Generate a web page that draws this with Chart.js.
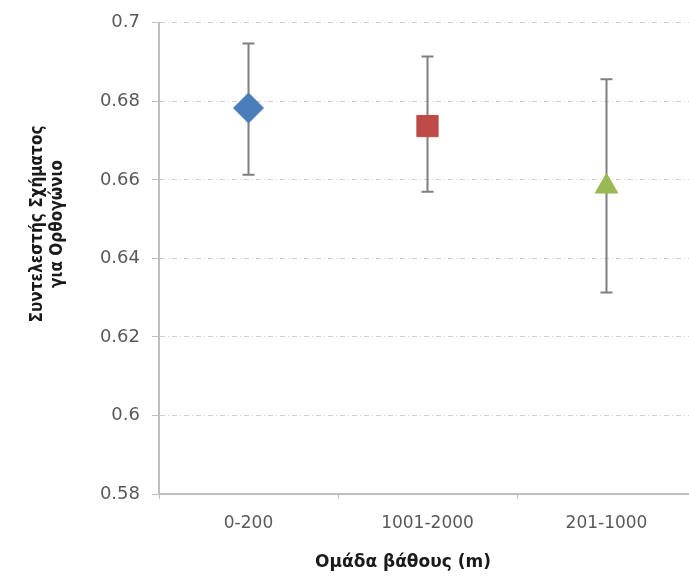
<!DOCTYPE html>
<html>
<head>
<meta charset="utf-8">
<script src="https://cdn.jsdelivr.net/npm/chart.js@4/dist/chart.umd.min.js"></script>
<style>
  html, body { margin: 0; padding: 0; background: #fff; overflow: hidden; }
  canvas { display: block; }
</style>
</head>
<body>
<canvas id="myChart" width="712" height="582"></canvas>
<script>
/** DATA **/
const labels = ['0-200', '1001-2000', '201-1000'];
const values = [0.6783, 0.6737, 0.6583];
const errHigh = [0.6947, 0.6914, 0.6856];
const errLow = [0.6613, 0.657, 0.6313];
const yTicks = [0.58, 0.6, 0.62, 0.64, 0.66, 0.68, 0.7];
const yTitle = ['Συντελεστής Σχήματος', 'για Ορθογώνιο'];
const xTitle = 'Ομάδα βάθους (m)';

const colors = ['#4a7ebb', '#be4b48', '#98b954'];
const styles = ['rectRot', 'rect', 'triangle'];
const radii = [15, 15, 13];

// error bars drawn with the chart's own scales
const errorBars = {
  id: 'errorBars',
  beforeDatasetsDraw(chart) {
    const ctx = chart.ctx;
    const x = chart.scales.x, y = chart.scales.y;
    ctx.save();
    ctx.strokeStyle = '#7f7f7f';
    ctx.lineWidth = 2;
    labels.forEach((l, i) => {
      const px = x.getPixelForValue(i);
      const top = y.getPixelForValue(errHigh[i]);
      const bot = y.getPixelForValue(errLow[i]);
      ctx.beginPath();
      ctx.moveTo(px, top); ctx.lineTo(px, bot);
      ctx.moveTo(px - 6, top); ctx.lineTo(px + 6, top);
      ctx.moveTo(px - 6, bot); ctx.lineTo(px + 6, bot);
      ctx.stroke();
    });
    ctx.restore();
  }
};

// axis titles, placed like the original
const titles = {
  id: 'titles',
  afterDraw(chart) {
    const ctx = chart.ctx;
    ctx.save();
    ctx.fillStyle = '#1a1a1a';
    ctx.textAlign = 'center';
    ctx.textBaseline = 'middle';
    ctx.font = "bold 17px 'DejaVu Sans', sans-serif";
    ctx.fillText(xTitle, 403, 563);
    ctx.translate(48, 224);
    ctx.rotate(-Math.PI / 2);
    ctx.font = "bold 17px 'DejaVu Sans Condensed', 'Liberation Sans Narrow', sans-serif";
    ctx.fillText(yTitle[0], 0, -10);
    ctx.fillText(yTitle[1], 0, 10);
    ctx.restore();
  }
};

const data = {
  labels: labels,
  datasets: [{
    data: values,
    showLine: false,
    pointStyle: styles,
    pointRadius: radii,
    pointHoverRadius: radii,
    pointBackgroundColor: colors,
    pointBorderColor: colors,
    pointBorderWidth: 1
  }]
};

const config = {
  type: 'line',
  data,
  options: {
    responsive: false,
    animation: false,
    layout: { padding: { top: 18, left: 0, right: 0, bottom: 0 } },
    plugins: {
      legend: { display: false },
      tooltip: { enabled: false }
    },
    scales: {
      x: {
        offset: true,
        afterFit(scale) { scale.height = 88; },
        grid: {
          display: true,
          drawOnChartArea: false,
          offset: true,
          tickLength: 5,
          color: '#bfbfbf',
          lineWidth: 1
        },
        border: { color: '#bfbfbf', width: 2 },
        ticks: {
          padding: 14,
          color: '#595959',
          font: { family: "'DejaVu Sans'", size: 17 }
        }
      },
      y: {
        min: 0.58,
        max: 0.7,
        afterFit(scale) { scale.width = 159; },
        afterBuildTicks(scale) { scale.ticks = yTicks.map(v => ({ value: v })); },
        grid: {
          color: '#d0d0d0',
          tickColor: '#bfbfbf',
          tickLength: 7,
          lineWidth: 1
        },
        border: { color: '#bfbfbf', width: 2, dash: [5, 3, 1, 3] },
        ticks: {
          padding: 12,
          color: '#595959',
          font: { family: "'DejaVu Sans'", size: 18 },
          callback: v => String(Math.round(v * 100) / 100)
        }
      }
    }
  },
  plugins: [errorBars, titles]
};

var myChart = new Chart(document.getElementById('myChart'), config);
</script>
</body>
</html>
